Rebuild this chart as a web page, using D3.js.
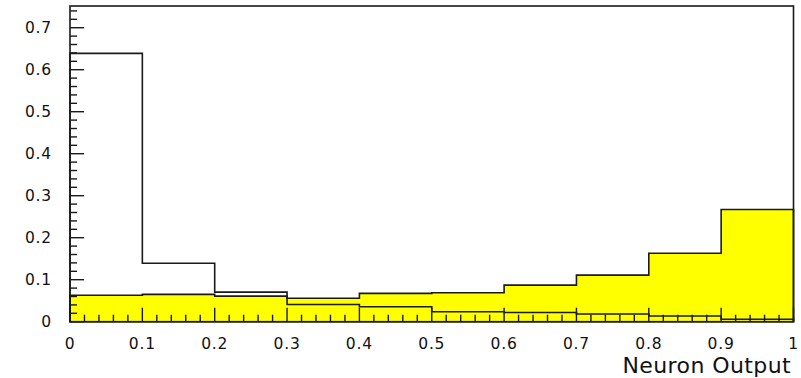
<!DOCTYPE html>
<html>
<head>
<meta charset="UTF-8">
<script src="https://d3js.org/d3.v7.min.js"></script>
<style>
  body { margin: 0; background: #fff; }
  text { font-family: "DejaVu Sans", sans-serif; fill: #111; }
</style>
</head>
<body>
<script>
  // bin edges of the neuron output histograms (10 bins of 0.1)
  const binEdges = [0, 0.1, 0.2, 0.3, 0.4, 0.5, 0.6, 0.7, 0.8, 0.9, 1.0];
  // filled yellow histogram
  const yellowVals = [0.063, 0.065, 0.061, 0.0557, 0.0675, 0.069, 0.087, 0.111, 0.163, 0.267];
  // black outline histogram
  const blackVals = [0.639, 0.139, 0.0705, 0.041, 0.0357, 0.0238, 0.0219, 0.0183, 0.0136, 0.0057];
  const xTicks = [0, 0.1, 0.2, 0.3, 0.4, 0.5, 0.6, 0.7, 0.8, 0.9, 1];
  const yTicks = [0, 0.1, 0.2, 0.3, 0.4, 0.5, 0.6, 0.7];
  const xTitle = "Neuron Output";

  const W = 801, H = 378;
  const svg = d3.select("body").append("svg").attr("width", W).attr("height", H);

  const x = d3.scaleLinear().domain([0, 1]).range([70, 793.5]);
  const y = d3.scaleLinear().domain([0, 0.7517]).range([321.7, 6]);

  // step path for a histogram
  function stepLine(vals) {
    const pts = [[x(binEdges[0]), y(0)]];
    vals.forEach((v, i) => {
      pts.push([x(binEdges[i]), y(v)]);
      pts.push([x(binEdges[i + 1]), y(v)]);
    });
    pts.push([x(binEdges[binEdges.length - 1]), y(0)]);
    return d3.line()(pts);
  }

  const lineCol = "#1a1a1a";

  svg.append("path")
    .attr("d", stepLine(yellowVals) + "Z")
    .attr("fill", "#ffff00")
    .attr("stroke", lineCol)
    .attr("stroke-width", 1.6);

  svg.append("path")
    .attr("d", stepLine(blackVals))
    .attr("fill", "none")
    .attr("stroke", lineCol)
    .attr("stroke-width", 1.6);

  // ticks
  const g = svg.append("g").attr("stroke", lineCol).attr("stroke-width", 1.4);
  const xMinor = d3.range(0, 51).map(i => i * 0.02);
  g.selectAll(".xt").data(xMinor).enter().append("line")
    .attr("x1", d => x(d)).attr("x2", d => x(d))
    .attr("y1", y(0))
    .attr("y2", (d, i) => y(0) - (i % 5 === 0 ? 14 : 7));
  const yMinor = d3.range(0, 38).map(i => i * 0.02).filter(d => d <= 0.7517);
  g.selectAll(".yt").data(yMinor).enter().append("line")
    .attr("y1", d => y(d)).attr("y2", d => y(d))
    .attr("x1", x(0))
    .attr("x2", (d, i) => x(0) + (i % 5 === 0 ? 14 : 7));

  // frame
  svg.append("rect")
    .attr("x", x(0)).attr("y", y(0.7517))
    .attr("width", x(1) - x(0)).attr("height", y(0) - y(0.7517))
    .attr("fill", "none").attr("stroke", lineCol).attr("stroke-width", 1.6);

  // tick labels
  svg.selectAll(".xl").data(xTicks).enter().append("text")
    .attr("x", d => x(d)).attr("y", 348.5)
    .attr("text-anchor", "middle")
    .attr("font-size", 15.5)
    .attr("letter-spacing", 0.8)
    .text(d => d === 0 ? "0" : d === 1 ? "1" : d3.format(".1f")(d));

  svg.selectAll(".yl").data(yTicks).enter().append("text")
    .attr("x", 52).attr("y", d => y(d) + 5.5)
    .attr("text-anchor", "end")
    .attr("font-size", 15.5)
    .attr("letter-spacing", 0.8)
    .text(d => d === 0 ? "0" : d3.format(".1f")(d));

  svg.append("text")
    .attr("x", 791).attr("y", 372.5)
    .attr("text-anchor", "end")
    .attr("font-size", 22)
    .attr("letter-spacing", 0.4)
    .text(xTitle);
</script>
</body>
</html>
